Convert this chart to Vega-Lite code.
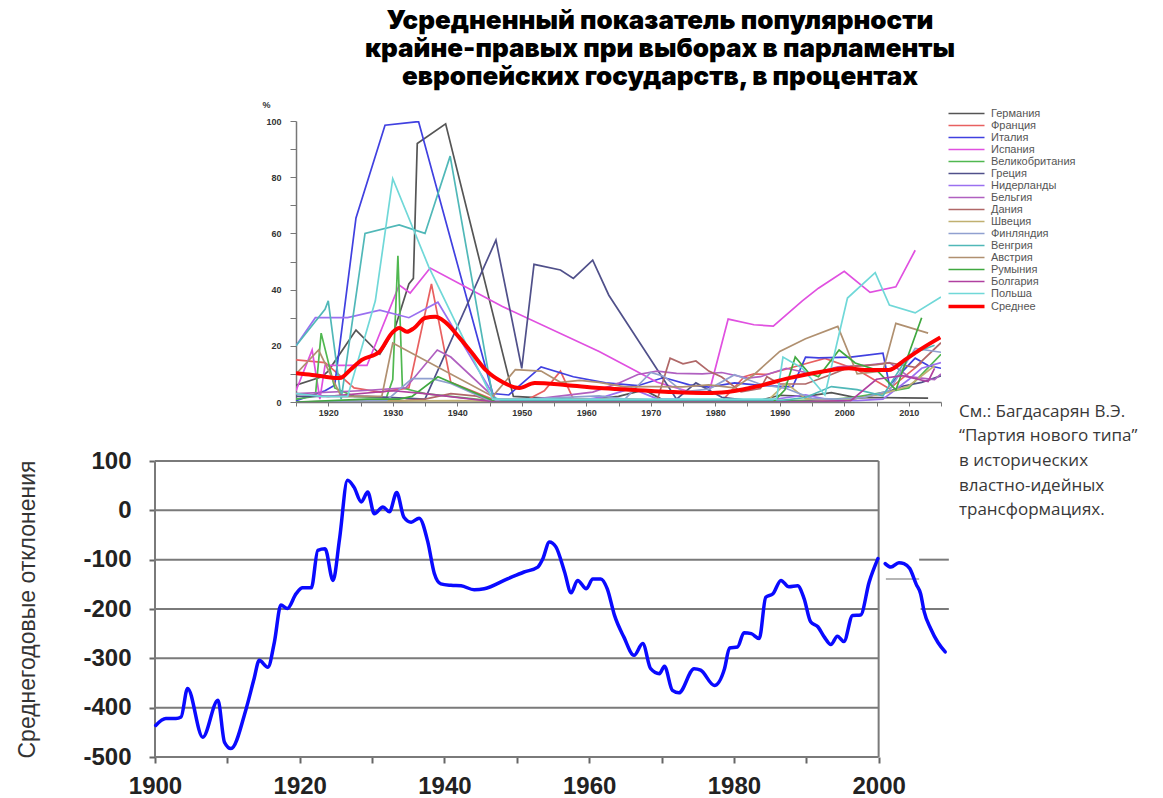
{
  "$schema": "https://vega.github.io/schema/vega-lite/v6.json",
  "background": "white",
  "padding": {"left": 16, "top": 8, "right": 0, "bottom": 0},
  "config": {"view": {"stroke": null}, "font": "Liberation Sans"},
  "title": {
    "text": ["Усредненный показатель популярности", "крайне-правых при выборах в парламенты", "европейских государств, в процентах"],
    "font": "Inter, DejaVu Sans",
    "fontSize": 26,
    "fontWeight": 900,
    "lineHeight": 28,
    "color": "#000000",
    "anchor": "middle",
    "offset": 10,
    "dx": 72
  },
  "datasets": {
    "countries": [
      {"c":"Германия","y":1915,"v":6},{"c":"Германия","y":1919,"v":9},{"c":"Германия","y":1920,"v":11},{"c":"Германия","y":1924.3,"v":25.6},{"c":"Германия","y":1928,"v":17},{"c":"Германия","y":1930.3,"v":26},{"c":"Германия","y":1932.5,"v":42},{"c":"Германия","y":1933.2,"v":44},{"c":"Германия","y":1933.8,"v":92},{"c":"Германия","y":1938.2,"v":99},{"c":"Германия","y":1948.7,"v":2},{"c":"Германия","y":1953,"v":1.5},{"c":"Германия","y":1957,"v":1},{"c":"Германия","y":1961,"v":1},{"c":"Германия","y":1965,"v":2},{"c":"Германия","y":1969,"v":4.3},{"c":"Германия","y":1972,"v":0.6},{"c":"Германия","y":1976,"v":0.3},{"c":"Германия","y":1980,"v":0.2},{"c":"Германия","y":1983,"v":0.2},{"c":"Германия","y":1987,"v":0.6},{"c":"Германия","y":1990,"v":2.4},{"c":"Германия","y":1994,"v":2},{"c":"Германия","y":1998,"v":3.3},{"c":"Германия","y":2002,"v":1.5},{"c":"Германия","y":2005,"v":1.6},{"c":"Германия","y":2009,"v":1.5},{"c":"Германия","y":2013,"v":1.4},
      {"c":"Франция","y":1915,"v":15},{"c":"Франция","y":1919.5,"v":14},{"c":"Франция","y":1924,"v":5},{"c":"Франция","y":1928,"v":3.5},{"c":"Франция","y":1932.5,"v":5},{"c":"Франция","y":1936,"v":42},{"c":"Франция","y":1939,"v":7},{"c":"Франция","y":1945.5,"v":1},{"c":"Франция","y":1951,"v":1},{"c":"Франция","y":1953.5,"v":4},{"c":"Франция","y":1956,"v":11},{"c":"Франция","y":1958,"v":1},{"c":"Франция","y":1962,"v":1},{"c":"Франция","y":1967,"v":1},{"c":"Франция","y":1973,"v":0.5},{"c":"Франция","y":1978,"v":0.8},{"c":"Франция","y":1981,"v":0.3},{"c":"Франция","y":1984.5,"v":9},{"c":"Франция","y":1986,"v":10},{"c":"Франция","y":1988,"v":9.8},{"c":"Франция","y":1993,"v":13},{"c":"Франция","y":1997,"v":15.5},{"c":"Франция","y":2002,"v":11.5},{"c":"Франция","y":2007,"v":4.7},{"c":"Франция","y":2012,"v":14},
      {"c":"Италия","y":1915,"v":0.5},{"c":"Италия","y":1919.5,"v":4},{"c":"Италия","y":1921,"v":6},{"c":"Италия","y":1924.3,"v":65.5},{"c":"Италия","y":1928.8,"v":98.5},{"c":"Италия","y":1934,"v":99.8},{"c":"Италия","y":1945.5,"v":3},{"c":"Италия","y":1948,"v":2.5},{"c":"Италия","y":1953,"v":12.5},{"c":"Италия","y":1958,"v":9},{"c":"Италия","y":1963,"v":6.8},{"c":"Италия","y":1968,"v":5.8},{"c":"Италия","y":1972,"v":8.7},{"c":"Италия","y":1976,"v":6.1},{"c":"Италия","y":1979,"v":5.3},{"c":"Италия","y":1983,"v":6.8},{"c":"Италия","y":1987,"v":5.9},{"c":"Италия","y":1992,"v":5.4},{"c":"Италия","y":1994,"v":16},{"c":"Италия","y":1996,"v":15.7},{"c":"Италия","y":2001,"v":16},{"c":"Италия","y":2006,"v":17.4},{"c":"Италия","y":2007,"v":6},{"c":"Италия","y":2011,"v":15.6},{"c":"Италия","y":2013,"v":13},{"c":"Италия","y":2015,"v":12},
      {"c":"Испания","y":1915,"v":4},{"c":"Испания","y":1917.5,"v":18.5},{"c":"Испания","y":1918.7,"v":1},{"c":"Испания","y":1919.5,"v":13},{"c":"Испания","y":1926,"v":13},{"c":"Испания","y":1931,"v":41.6},{"c":"Испания","y":1932.7,"v":38.8},{"c":"Испания","y":1935.8,"v":47.7},{"c":"Испания","y":1947,"v":34},{"c":"Испания","y":1962,"v":18},{"c":"Испания","y":1971,"v":7},{"c":"Испания","y":1977,"v":3},{"c":"Испания","y":1979,"v":3},{"c":"Испания","y":1982,"v":29.5},{"c":"Испания","y":1986,"v":27.5},{"c":"Испания","y":1989,"v":27},{"c":"Испания","y":1993.5,"v":36},{"c":"Испания","y":1996,"v":40.5},{"c":"Испания","y":2000,"v":46.5},{"c":"Испания","y":2004,"v":39},{"c":"Испания","y":2008,"v":41},{"c":"Испания","y":2011,"v":54},
      {"c":"Великобритания","y":1915,"v":1},{"c":"Великобритания","y":1918,"v":2},{"c":"Великобритания","y":1918.9,"v":24.5},{"c":"Великобритания","y":1921,"v":5},{"c":"Великобритания","y":1924,"v":2},{"c":"Великобритания","y":1929,"v":1.5},{"c":"Великобритания","y":1930,"v":8},{"c":"Великобритания","y":1930.8,"v":52},{"c":"Великобритания","y":1931.5,"v":5},{"c":"Великобритания","y":1935,"v":3},{"c":"Великобритания","y":1945,"v":0.5},{"c":"Великобритания","y":1950,"v":0.3},{"c":"Великобритания","y":1970,"v":0.5},{"c":"Великобритания","y":1974,"v":0.4},{"c":"Великобритания","y":1979,"v":0.6},{"c":"Великобритания","y":1983,"v":0.5},{"c":"Великобритания","y":1992,"v":0.5},{"c":"Великобритания","y":1997,"v":0.8},{"c":"Великобритания","y":2001,"v":1.5},{"c":"Великобритания","y":2005,"v":3},{"c":"Великобритания","y":2010,"v":5},{"c":"Великобритания","y":2015,"v":17},
      {"c":"Греция","y":1915,"v":2},{"c":"Греция","y":1926,"v":2},{"c":"Греция","y":1935,"v":1},{"c":"Греция","y":1946,"v":57.6},{"c":"Греция","y":1950,"v":12},{"c":"Греция","y":1951.9,"v":49},{"c":"Греция","y":1956,"v":47},{"c":"Греция","y":1958,"v":44},{"c":"Греция","y":1961,"v":50.5},{"c":"Греция","y":1963.5,"v":38},{"c":"Греция","y":1974,"v":1},{"c":"Греция","y":1977,"v":6.8},{"c":"Греция","y":1981,"v":1.7},{"c":"Греция","y":1985,"v":0.6},{"c":"Греция","y":1989,"v":0.3},{"c":"Греция","y":1993,"v":0.1},{"c":"Греция","y":1996,"v":0.2},{"c":"Греция","y":2000,"v":0.5},{"c":"Греция","y":2004,"v":2.2},{"c":"Греция","y":2007,"v":3.8},{"c":"Греция","y":2009,"v":5.6},{"c":"Греция","y":2012,"v":7},{"c":"Греция","y":2015,"v":9.3},
      {"c":"Нидерланды","y":1915,"v":20},{"c":"Нидерланды","y":1918,"v":30},{"c":"Нидерланды","y":1923,"v":30},{"c":"Нидерланды","y":1928,"v":32.7},{"c":"Нидерланды","y":1932.5,"v":30},{"c":"Нидерланды","y":1937,"v":35.5},{"c":"Нидерланды","y":1946,"v":1},{"c":"Нидерланды","y":1948,"v":0.5},{"c":"Нидерланды","y":1959,"v":0.5},{"c":"Нидерланды","y":1963,"v":2},{"c":"Нидерланды","y":1967,"v":4.8},{"c":"Нидерланды","y":1971,"v":1.1},{"c":"Нидерланды","y":1977,"v":0.8},{"c":"Нидерланды","y":1982,"v":0.8},{"c":"Нидерланды","y":1986,"v":0.4},{"c":"Нидерланды","y":1989,"v":0.9},{"c":"Нидерланды","y":1994,"v":2.5},{"c":"Нидерланды","y":1998,"v":0.6},{"c":"Нидерланды","y":2002,"v":0.5},{"c":"Нидерланды","y":2006,"v":1},{"c":"Нидерланды","y":2010,"v":8},{"c":"Нидерланды","y":2012,"v":12},{"c":"Нидерланды","y":2015,"v":14},
      {"c":"Бельгия","y":1915,"v":3},{"c":"Бельгия","y":1925,"v":4},{"c":"Бельгия","y":1932,"v":5},{"c":"Бельгия","y":1936.9,"v":18.5},{"c":"Бельгия","y":1939,"v":16},{"c":"Бельгия","y":1946,"v":1},{"c":"Бельгия","y":1950,"v":0.5},{"c":"Бельгия","y":1961,"v":3.5},{"c":"Бельгия","y":1965,"v":6.7},{"c":"Бельгия","y":1968,"v":9.8},{"c":"Бельгия","y":1971,"v":11},{"c":"Бельгия","y":1974,"v":10.2},{"c":"Бельгия","y":1978,"v":10},{"c":"Бельгия","y":1981,"v":10.5},{"c":"Бельгия","y":1985,"v":8.5},{"c":"Бельгия","y":1987,"v":9},{"c":"Бельгия","y":1991,"v":12},{"c":"Бельгия","y":1995,"v":10},{"c":"Бельгия","y":1999,"v":12.5},{"c":"Бельгия","y":2003,"v":13},{"c":"Бельгия","y":2007,"v":14},{"c":"Бельгия","y":2010,"v":9},{"c":"Бельгия","y":2014,"v":8},{"c":"Бельгия","y":2015,"v":10},
      {"c":"Дания","y":1915,"v":0},{"c":"Дания","y":1926,"v":0.5},{"c":"Дания","y":1932,"v":0.6},{"c":"Дания","y":1935,"v":1},{"c":"Дания","y":1939,"v":3},{"c":"Дания","y":1943,"v":2.1},{"c":"Дания","y":1945,"v":0.5},{"c":"Дания","y":1950,"v":0.3},{"c":"Дания","y":1960,"v":0.5},{"c":"Дания","y":1971,"v":0.7},{"c":"Дания","y":1973,"v":15.6},{"c":"Дания","y":1975,"v":13.6},{"c":"Дания","y":1977,"v":14.6},{"c":"Дания","y":1979,"v":11},{"c":"Дания","y":1981,"v":8.9},{"c":"Дания","y":1984,"v":3.6},{"c":"Дания","y":1987,"v":4.8},{"c":"Дания","y":1988,"v":9},{"c":"Дания","y":1990,"v":6.4},{"c":"Дания","y":1994,"v":6.4},{"c":"Дания","y":1998,"v":9.8},{"c":"Дания","y":2001,"v":12.6},{"c":"Дания","y":2005,"v":13.3},{"c":"Дания","y":2007,"v":13.9},{"c":"Дания","y":2011,"v":12.3},{"c":"Дания","y":2015,"v":21.1},
      {"c":"Швеция","y":1915,"v":0},{"c":"Швеция","y":1930,"v":0.3},{"c":"Швеция","y":1940,"v":0.5},{"c":"Швеция","y":1950,"v":0},{"c":"Швеция","y":1970,"v":0},{"c":"Швеция","y":1988,"v":0.2},{"c":"Швеция","y":1991,"v":6.7},{"c":"Швеция","y":1994,"v":1.2},{"c":"Швеция","y":1998,"v":0.4},{"c":"Швеция","y":2002,"v":1.4},{"c":"Швеция","y":2006,"v":2.9},{"c":"Швеция","y":2010,"v":5.7},{"c":"Швеция","y":2014,"v":12.9},
      {"c":"Финляндия","y":1915,"v":0},{"c":"Финляндия","y":1929,"v":0.5},{"c":"Финляндия","y":1933,"v":8.3},{"c":"Финляндия","y":1936,"v":8.3},{"c":"Финляндия","y":1939,"v":6.6},{"c":"Финляндия","y":1945,"v":0.5},{"c":"Финляндия","y":1962,"v":2.2},{"c":"Финляндия","y":1966,"v":1},{"c":"Финляндия","y":1970,"v":10.5},{"c":"Финляндия","y":1972,"v":9.2},{"c":"Финляндия","y":1975,"v":3.6},{"c":"Финляндия","y":1979,"v":4.6},{"c":"Финляндия","y":1983,"v":9.7},{"c":"Финляндия","y":1987,"v":6.3},{"c":"Финляндия","y":1991,"v":4.8},{"c":"Финляндия","y":1995,"v":1.3},{"c":"Финляндия","y":1999,"v":1},{"c":"Финляндия","y":2003,"v":1.6},{"c":"Финляндия","y":2007,"v":4.1},{"c":"Финляндия","y":2011,"v":19.1},{"c":"Финляндия","y":2015,"v":17.7},
      {"c":"Венгрия","y":1915,"v":20},{"c":"Венгрия","y":1919.5,"v":33},{"c":"Венгрия","y":1920,"v":36},{"c":"Венгрия","y":1922,"v":1},{"c":"Венгрия","y":1925.7,"v":60},{"c":"Венгрия","y":1931,"v":63},{"c":"Венгрия","y":1935,"v":60},{"c":"Венгрия","y":1938.9,"v":87.5},{"c":"Венгрия","y":1945.5,"v":1.8},{"c":"Венгрия","y":1947,"v":0.5},{"c":"Венгрия","y":1990,"v":0.5},{"c":"Венгрия","y":1994,"v":1.6},{"c":"Венгрия","y":1998,"v":5.5},{"c":"Венгрия","y":2002,"v":4.4},{"c":"Венгрия","y":2006,"v":2.2},{"c":"Венгрия","y":2010,"v":16.7},{"c":"Венгрия","y":2014,"v":20.2},
      {"c":"Австрия","y":1915,"v":10},{"c":"Австрия","y":1918.5,"v":18.5},{"c":"Австрия","y":1922,"v":2},{"c":"Австрия","y":1928.3,"v":2},{"c":"Австрия","y":1930,"v":21},{"c":"Австрия","y":1945.5,"v":2},{"c":"Австрия","y":1949,"v":11.5},{"c":"Австрия","y":1953,"v":11},{"c":"Австрия","y":1956,"v":7},{"c":"Австрия","y":1959,"v":7.7},{"c":"Австрия","y":1962,"v":7},{"c":"Австрия","y":1966,"v":5.4},{"c":"Австрия","y":1970,"v":5.5},{"c":"Австрия","y":1975,"v":5.4},{"c":"Австрия","y":1979,"v":6.1},{"c":"Австрия","y":1983,"v":5},{"c":"Австрия","y":1986,"v":9.7},{"c":"Австрия","y":1990,"v":18},{"c":"Австрия","y":1994,"v":22.5},{"c":"Австрия","y":1999,"v":26.9},{"c":"Австрия","y":2002,"v":10},{"c":"Австрия","y":2006,"v":11},{"c":"Австрия","y":2008,"v":28},{"c":"Австрия","y":2013,"v":24.5},
      {"c":"Румыния","y":1915,"v":0},{"c":"Румыния","y":1926,"v":1},{"c":"Румыния","y":1931,"v":1},{"c":"Румыния","y":1933,"v":2},{"c":"Румыния","y":1937,"v":9},{"c":"Румыния","y":1946,"v":0},{"c":"Румыния","y":1989,"v":0},{"c":"Румыния","y":1990.8,"v":4.3},{"c":"Румыния","y":1992.4,"v":16},{"c":"Румыния","y":1994.5,"v":10.3},{"c":"Румыния","y":1996,"v":9},{"c":"Румыния","y":1999.2,"v":18.5},{"c":"Румыния","y":2001.7,"v":13.9},{"c":"Румыния","y":2005,"v":11.4},{"c":"Румыния","y":2008,"v":4.3},{"c":"Румыния","y":2012,"v":30},
      {"c":"Болгария","y":1915,"v":3},{"c":"Болгария","y":1920,"v":2},{"c":"Болгария","y":1930,"v":4},{"c":"Болгария","y":1935,"v":3},{"c":"Болгария","y":1946,"v":0},{"c":"Болгария","y":1990,"v":0},{"c":"Болгария","y":2001,"v":0.5},{"c":"Болгария","y":2005,"v":8.1},{"c":"Болгария","y":2009,"v":9.4},{"c":"Болгария","y":2013,"v":7.3},{"c":"Болгария","y":2014,"v":12},
      {"c":"Польша","y":1915,"v":3},{"c":"Польша","y":1919,"v":2},{"c":"Польша","y":1923,"v":2},{"c":"Польша","y":1927.3,"v":36},{"c":"Польша","y":1930,"v":79.5},{"c":"Польша","y":1935.6,"v":48},{"c":"Польша","y":1945.5,"v":1},{"c":"Польша","y":1989.5,"v":1},{"c":"Польша","y":1990.5,"v":16},{"c":"Польша","y":1993.5,"v":12},{"c":"Польша","y":1997,"v":2.5},{"c":"Польша","y":2000.5,"v":37},{"c":"Польша","y":2004.8,"v":46},{"c":"Польша","y":2007,"v":34.5},{"c":"Польша","y":2011,"v":31.7},{"c":"Польша","y":2015,"v":37.4}
    ],
    "avg": [
      {"c":"Среднее","y":1915,"v":10.2},{"c":"Среднее","y":1917.5,"v":9.6},{"c":"Среднее","y":1919.5,"v":9},{"c":"Среднее","y":1921.8,"v":8.5},{"c":"Среднее","y":1923.4,"v":11.4},{"c":"Среднее","y":1925.2,"v":15},{"c":"Среднее","y":1927.9,"v":17.8},{"c":"Среднее","y":1929.9,"v":24.6},{"c":"Среднее","y":1931,"v":26.3},{"c":"Среднее","y":1932.2,"v":25},{"c":"Среднее","y":1933.3,"v":26.3},{"c":"Среднее","y":1935,"v":29.9},{"c":"Среднее","y":1936.6,"v":30.3},{"c":"Среднее","y":1938.1,"v":28.5},{"c":"Среднее","y":1940.3,"v":23},{"c":"Среднее","y":1942.3,"v":17.4},{"c":"Среднее","y":1944.4,"v":11.4},{"c":"Среднее","y":1947,"v":7.1},{"c":"Среднее","y":1949.6,"v":5},{"c":"Среднее","y":1952,"v":6.8},{"c":"Среднее","y":1957,"v":6},{"c":"Среднее","y":1962,"v":5},{"c":"Среднее","y":1967.6,"v":4.3},{"c":"Среднее","y":1972.8,"v":3.6},{"c":"Среднее","y":1978,"v":3.2},{"c":"Среднее","y":1981,"v":3.4},{"c":"Среднее","y":1986.2,"v":5.4},{"c":"Среднее","y":1991.4,"v":8.5},{"c":"Среднее","y":1996.5,"v":10.8},{"c":"Среднее","y":2000.7,"v":12},{"c":"Среднее","y":2003.2,"v":11.4},{"c":"Среднее","y":2006.9,"v":11.4},{"c":"Среднее","y":2009.4,"v":15},{"c":"Среднее","y":2012,"v":19},{"c":"Среднее","y":2014.9,"v":23}
    ],
    "dev": [
      {"s":1,"yr":1900.1,"d":-436},{"s":1,"yr":1901.5,"d":-422},{"s":1,"yr":1902.9,"d":-422},{"s":1,"yr":1903.6,"d":-419},{"s":1,"yr":1904.5,"d":-361},{"s":1,"yr":1906.6,"d":-460},{"s":1,"yr":1908.7,"d":-385},{"s":1,"yr":1909.6,"d":-470},{"s":1,"yr":1910.5,"d":-483},{"s":1,"yr":1912.6,"d":-402},{"s":1,"yr":1913.7,"d":-341},{"s":1,"yr":1914.4,"d":-304},{"s":1,"yr":1915.6,"d":-318},{"s":1,"yr":1916.5,"d":-267},{"s":1,"yr":1917.4,"d":-192},{"s":1,"yr":1918.3,"d":-199},{"s":1,"yr":1919.5,"d":-169},{"s":1,"yr":1920.4,"d":-157},{"s":1,"yr":1921.6,"d":-157},{"s":1,"yr":1922.5,"d":-81},{"s":1,"yr":1923.5,"d":-78},{"s":1,"yr":1924.6,"d":-142},{"s":1,"yr":1925.5,"d":-58},{"s":1,"yr":1926.6,"d":61},{"s":1,"yr":1927.5,"d":47},{"s":1,"yr":1928.5,"d":17},{"s":1,"yr":1929.4,"d":37},{"s":1,"yr":1930.3,"d":-7},{"s":1,"yr":1931.5,"d":7},{"s":1,"yr":1932.4,"d":-3},{"s":1,"yr":1933.4,"d":36},{"s":1,"yr":1934.4,"d":-14},{"s":1,"yr":1935.4,"d":-24},{"s":1,"yr":1936.5,"d":-16},{"s":1,"yr":1937.7,"d":-64},{"s":1,"yr":1938.6,"d":-128},{"s":1,"yr":1939.5,"d":-149},{"s":1,"yr":1940.9,"d":-152},{"s":1,"yr":1942.3,"d":-153},{"s":1,"yr":1944.1,"d":-161},{"s":1,"yr":1945.5,"d":-159},{"s":1,"yr":1948.7,"d":-139},{"s":1,"yr":1951,"d":-125},{"s":1,"yr":1952.9,"d":-115},{"s":1,"yr":1953.6,"d":-98},{"s":1,"yr":1954.5,"d":-64},{"s":1,"yr":1955.4,"d":-74},{"s":1,"yr":1956.6,"d":-125},{"s":1,"yr":1957.5,"d":-167},{"s":1,"yr":1958.4,"d":-142},{"s":1,"yr":1959.6,"d":-159},{"s":1,"yr":1960.5,"d":-139},{"s":1,"yr":1961.6,"d":-139},{"s":1,"yr":1962.5,"d":-159},{"s":1,"yr":1963.5,"d":-213},{"s":1,"yr":1964.8,"d":-257},{"s":1,"yr":1966.2,"d":-294},{"s":1,"yr":1967.4,"d":-270},{"s":1,"yr":1968.5,"d":-321},{"s":1,"yr":1969.7,"d":-331},{"s":1,"yr":1970.4,"d":-316},{"s":1,"yr":1971.5,"d":-365},{"s":1,"yr":1972.4,"d":-370},{"s":1,"yr":1974.5,"d":-321},{"s":1,"yr":1975.4,"d":-324},{"s":1,"yr":1977.3,"d":-355},{"s":1,"yr":1978.7,"d":-321},{"s":1,"yr":1979.4,"d":-279},{"s":1,"yr":1980.5,"d":-277},{"s":1,"yr":1981.4,"d":-248},{"s":1,"yr":1982.4,"d":-250},{"s":1,"yr":1983.5,"d":-260},{"s":1,"yr":1984.4,"d":-176},{"s":1,"yr":1985.4,"d":-169},{"s":1,"yr":1986.5,"d":-142},{"s":1,"yr":1987.6,"d":-155},{"s":1,"yr":1988.8,"d":-153},{"s":1,"yr":1989.7,"d":-179},{"s":1,"yr":1990.6,"d":-226},{"s":1,"yr":1991.6,"d":-236},{"s":1,"yr":1992.5,"d":-257},{"s":1,"yr":1993.4,"d":-272},{"s":1,"yr":1994.3,"d":-255},{"s":1,"yr":1995.2,"d":-266},{"s":1,"yr":1996.4,"d":-213},{"s":1,"yr":1997.5,"d":-212},{"s":1,"yr":1998.7,"d":-145},{"s":1,"yr":1999.9,"d":-98},
      {"s":2,"yr":2000.9,"d":-108},{"s":2,"yr":2001.7,"d":-115},{"s":2,"yr":2002.8,"d":-106},{"s":2,"yr":2003.5,"d":-108},{"s":2,"yr":2004.3,"d":-118},{"s":2,"yr":2005.2,"d":-150},{"s":2,"yr":2005.8,"d":-169},{"s":2,"yr":2006.3,"d":-206},{"s":2,"yr":2007.2,"d":-240},{"s":2,"yr":2008.2,"d":-268},{"s":2,"yr":2009.2,"d":-287}
    ],
    "frame": [
      {"x1":1900,"x2":2000,"y1":100,"y2":100},{"x1":1900,"x2":2000,"y1":0,"y2":0},{"x1":1900,"x2":2000,"y1":-100,"y2":-100},{"x1":1900,"x2":2000,"y1":-200,"y2":-200},{"x1":1900,"x2":2000,"y1":-300,"y2":-300},{"x1":1900,"x2":2000,"y1":-400,"y2":-400},{"x1":1900,"x2":2000,"y1":-500,"y2":-500},
      {"x1":1900,"x2":1900,"y1":-500,"y2":100},{"x1":2000,"x2":2000,"y1":-500,"y2":100},
      {"x1":2005.6,"x2":2009.7,"y1":-100,"y2":-100},{"x1":2005.8,"x2":2009.7,"y1":-200,"y2":-200}
    ],
    "stub": [
      {"x1":2001,"x2":2005.6,"y1":-139,"y2":-139}
    ],
    "note": [
      {"i":0,"x0":0,"t":"См.: Багдасарян В.Э."},
      {"i":1,"x0":0,"t":"“Партия нового типа”"},
      {"i":2,"x0":0,"t":"в исторических"},
      {"i":3,"x0":0,"t":" властно-идейных"},
      {"i":4,"x0":0,"t":"трансформациях."}
    ]
  },
  "spacing": -15,
  "vconcat": [
    {
      "spacing": 0,
      "hconcat": [
        {"width": 106, "height": 1, "data": {"values": []}, "mark": "point", "encoding": {}},
        {
          "width": 645,
          "height": 281,
          "encoding": {
            "x": {"field": "y", "type": "quantitative", "scale": {"domain": [1915, 2015], "nice": false, "zero": false},
              "axis": {"orient": "bottom", "title": null, "values": [1915,1920,1925,1930,1935,1940,1945,1950,1955,1960,1965,1970,1975,1980,1985,1990,1995,2000,2005,2010,2015], "labelExpr": "datum.value % 10 === 0 ? '' + datum.value : ''", "labelOverlap": false, "labelFlush": false, "grid": false, "domainColor": "#777777", "domainWidth": 1.5, "tickColor": "#777777", "tickSize": 4, "labelFontSize": 9, "labelFontWeight": "bold", "labelColor": "#333333", "labelPadding": 2, "zindex": 1}},
            "y": {"field": "v", "type": "quantitative", "scale": {"domain": [0, 100], "nice": false},
              "axis": {"title": "%", "titleAngle": 0, "titleX": -30, "titleY": -12, "titleAlign": "center", "titleBaseline": "bottom", "titleFontSize": 9, "titleFontWeight": "bold", "titleColor": "#333333", "values": [0,10,20,30,40,50,60,70,80,90,100], "labelExpr": "datum.value % 20 === 0 ? '' + datum.value : ''", "labelOverlap": false, "grid": false, "domainColor": "#777777", "domainWidth": 1.5, "tickColor": "#777777", "tickSize": 6, "labelFontSize": 9, "labelFontWeight": "bold", "labelColor": "#333333", "labelPadding": 9}}
          },
          "layer": [
            {
              "data": {"name": "countries"},
              "mark": {"type": "line", "strokeWidth": 1.7, "clip": true},
              "encoding": {
                "color": {"field": "c", "type": "nominal",
                  "scale": {"domain": ["Германия","Франция","Италия","Испания","Великобритания","Греция","Нидерланды","Бельгия","Дания","Швеция","Финляндия","Венгрия","Австрия","Румыния","Болгария","Польша","Среднее"],
                    "range": ["#555555","#e86060","#4040e0","#e050e0","#50b850","#50508a","#9a70f0","#b060c0","#b06868","#c0b070","#90a0d0","#50b8b8","#b09070","#40a840","#b040a0","#70d8d8","#ff0000"]},
                  "legend": {"orient": "none", "legendX": 806, "legendY": -13, "title": null, "symbolType": "M-4.5,0H4.5", "symbolSize": 64, "symbolStrokeWidth": 1.5, "labelOffset": 19, "labelFontSize": 11, "labelColor": "#555555", "labelFont": "Liberation Sans", "rowPadding": 0,
                    "encode": {"symbols": {"update": {"strokeWidth": {"signal": "datum.value === 'Среднее' ? 3.5 : 1.5"}}}}}}
              }
            },
            {
              "data": {"name": "avg"},
              "mark": {"type": "line", "strokeWidth": 4, "interpolate": "monotone", "clip": true},
              "encoding": {
                "color": {"field": "c", "type": "nominal", "legend": null}
              }
            }
          ]
        }
      ]
    },
    {
      "spacing": 8,
      "hconcat": [
        {
          "width": 796,
          "height": 296,
          "layer": [
            {
              "data": {"name": "frame"},
              "mark": {"type": "rule", "color": "#7a7a7a", "strokeWidth": 2},
              "encoding": {
                "x": {"field": "x1", "type": "quantitative", "scale": {"domain": [1900, 2010], "nice": false, "zero": false},
                  "axis": {"title": null, "values": [1900,1910,1920,1930,1940,1950,1960,1970,1980,1990,2000], "labelExpr": "datum.value % 20 === 0 ? '' + datum.value : ''", "labelOverlap": false, "labelFlush": false, "domain": false, "grid": false, "tickColor": "#666666", "tickWidth": 2, "tickSize": 6, "labelFontSize": 24, "labelFontWeight": "bold", "labelColor": "#222222", "labelPadding": 11, "labelFont": "Liberation Sans"}},
                "x2": {"field": "x2"},
                "y": {"field": "y1", "type": "quantitative", "scale": {"domain": [-500, 100], "nice": false, "zero": false},
                  "axis": {"title": "Среднегодовые отклонения", "titleFont": "Liberation Sans Narrow, Liberation Sans", "titleFontSize": 23, "titleFontWeight": "normal", "titleColor": "#333333", "titlePadding": 43, "values": [-500,-450,-400,-350,-300,-250,-200,-150,-100,-50,0,50,100], "labelExpr": "datum.value % 100 === 0 ? '' + datum.value : ''", "labelOverlap": false, "domain": false, "grid": false, "tickColor": "#666666", "tickWidth": 2, "tickSize": 6, "labelFontSize": 24, "labelFontWeight": "bold", "labelColor": "#222222", "labelPadding": 18, "labelFont": "Liberation Sans"}},
                "y2": {"field": "y2"}
              }
            },
            {
              "data": {"name": "stub"},
              "mark": {"type": "rule", "color": "#b5b5b5", "strokeWidth": 2},
              "encoding": {
                "x": {"field": "x1", "type": "quantitative", "axis": {"title": null}},
                "x2": {"field": "x2"},
                "y": {"field": "y1", "type": "quantitative", "axis": {"title": "Среднегодовые отклонения"}},
                "y2": {"field": "y2"}
              }
            },
            {
              "data": {"name": "dev"},
              "mark": {"type": "line", "color": "#0a0aff", "strokeWidth": 3.5, "interpolate": "monotone", "strokeJoin": "round", "strokeCap": "round"},
              "encoding": {
                "x": {"field": "yr", "type": "quantitative", "axis": {"title": null}},
                "y": {"field": "d", "type": "quantitative", "axis": {"title": "Среднегодовые отклонения"}},
                "detail": {"field": "s", "type": "nominal"}
              }
            }
          ]
        },
        {
          "width": 200,
          "height": 296,
          "data": {"name": "note"},
          "mark": {"type": "text", "align": "left", "baseline": "middle", "font": "Open Sans", "fontSize": 17, "color": "#383838"},
          "encoding": {
            "x": {"field": "x0", "type": "quantitative", "scale": {"domain": [0, 1]}, "axis": null},
            "y": {"field": "i", "type": "quantitative", "scale": {"domain": [2, 14.0816], "reverse": true, "nice": false, "zero": false}, "axis": null},
            "text": {"field": "t"}
          }
        }
      ]
    }
  ]
}
